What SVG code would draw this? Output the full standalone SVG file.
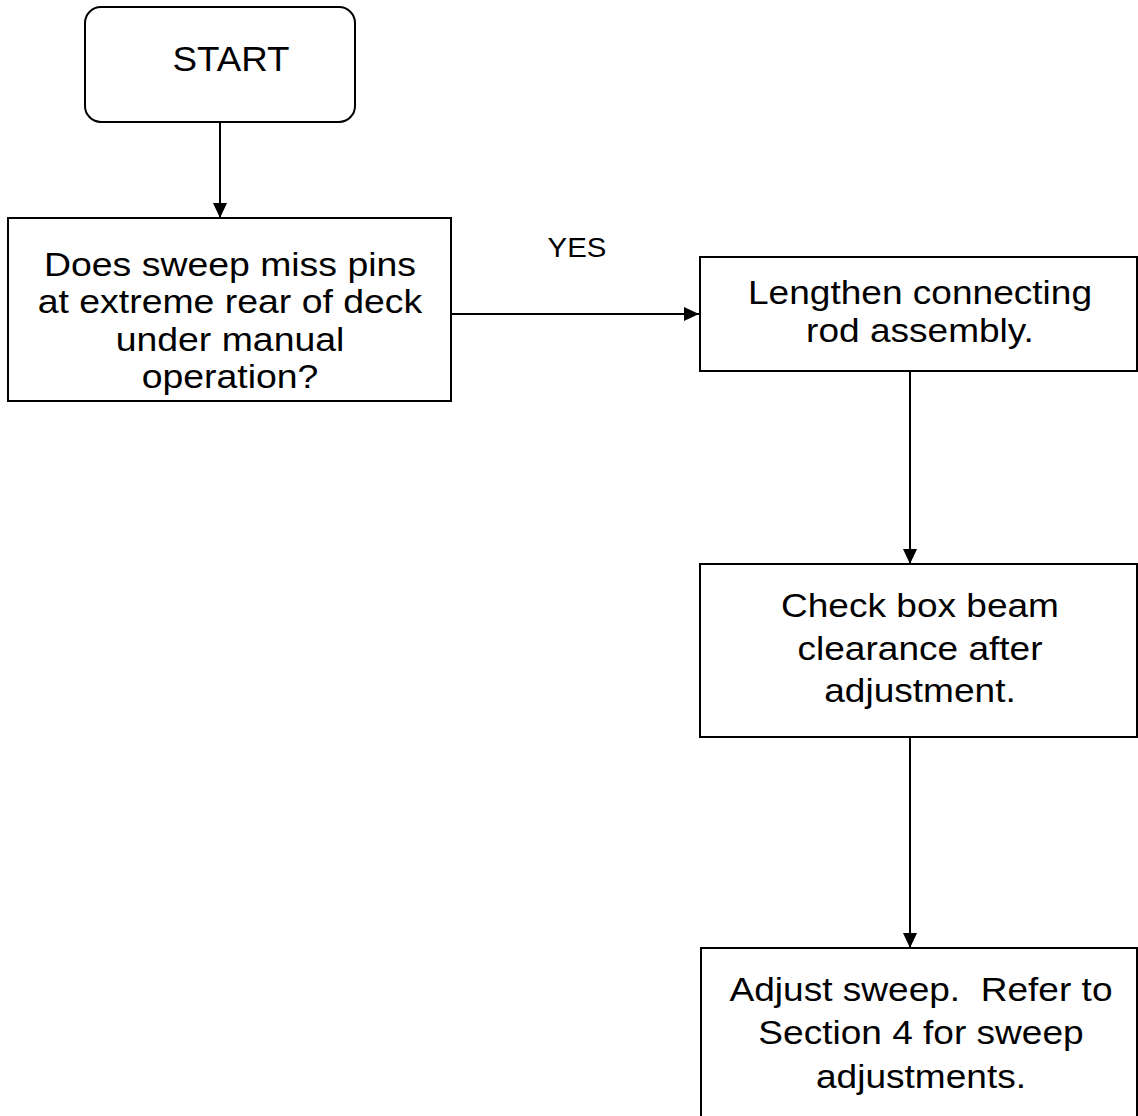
<svg xmlns="http://www.w3.org/2000/svg" width="1138" height="1116" viewBox="0 0 1138 1116">
<defs>
<marker id="arr" markerWidth="16" markerHeight="14" refX="15" refY="7" orient="auto" markerUnits="userSpaceOnUse">
<path d="M0,0 L15,7 L0,14 Z" fill="#000"/>
</marker>
<style>
.box{fill:#fff;stroke:#000;stroke-width:2}
.t{font-family:"Liberation Sans",Arial,sans-serif;font-size:34px;fill:#000;text-anchor:middle;white-space:pre}
.c{stroke:#000;stroke-width:2;fill:none;marker-end:url(#arr)}
</style>
</defs>
<rect width="1138" height="1116" fill="#fff"/>
<g id="connectors">
<line class="c" x1="220" y1="122" x2="220" y2="218"/>
<line class="c" x1="451" y1="314" x2="699" y2="314"/>
<line class="c" x1="910" y1="371" x2="910" y2="564"/>
<line class="c" x1="910" y1="737" x2="910" y2="948"/>
<g transform="translate(577 0) scale(1.05 1)"><text class="t" style="font-size:28px" x="0" y="257">YES</text></g>
</g>
<g id="start">
<rect class="box" x="85" y="7" width="270" height="115" rx="16"/>
<g transform="translate(231 0) scale(1.05 1)"><text class="t" style="font-size:35px" x="0" y="71">START</text></g>
</g>
<g id="decision">
<rect class="box" x="8" y="218" width="443" height="183"/>
<g transform="translate(230 0) scale(1.1 1)">
<text class="t" x="0" y="276">Does sweep miss pins</text>
<text class="t" x="0" y="313">at extreme rear of deck</text>
<text class="t" x="0" y="351">under manual</text>
<text class="t" x="0" y="388">operation?</text>
</g>
</g>
<g id="lengthen">
<rect class="box" x="700" y="257" width="437" height="114"/>
<g transform="translate(920 0) scale(1.09 1)">
<text class="t" x="0" y="304">Lengthen connecting</text>
<text class="t" x="0" y="342">rod assembly.</text>
</g>
</g>
<g id="check">
<rect class="box" x="700" y="564" width="437" height="173"/>
<g transform="translate(920 0) scale(1.09 1)">
<text class="t" x="0" y="617">Check box beam</text>
<text class="t" x="0" y="660">clearance after</text>
<text class="t" x="0" y="702">adjustment.</text>
</g>
</g>
<g id="adjust">
<rect class="box" x="701" y="948" width="436" height="180"/>
<g transform="translate(921 0) scale(1.09 1)">
<text class="t" x="0" y="1001">Adjust sweep.  Refer to</text>
<text class="t" x="0" y="1044">Section 4 for sweep</text>
<text class="t" x="0" y="1088">adjustments.</text>
</g>
</g>
</svg>
